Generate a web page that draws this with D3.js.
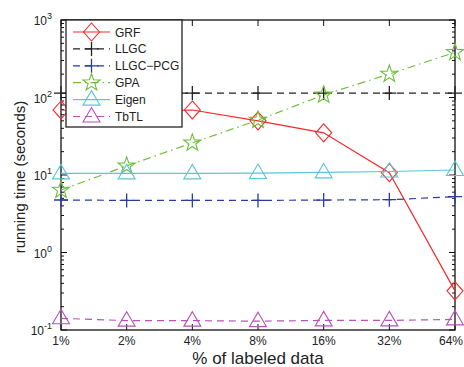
<!DOCTYPE html>
<html><head><meta charset="utf-8">
<script src="https://cdn.jsdelivr.net/npm/d3@7"></script>
<style>body{margin:0;background:#fff}svg{display:block}text{font-family:"Liberation Sans",Arial,sans-serif;fill:#222}</style>
</head><body><svg id="c" width="464" height="367"></svg>
<script>
const categories = ["1%","2%","4%","8%","16%","32%","64%"];
const grf     = [69, 66, 69, 50, 35, 10.7, 0.32];
const llgc    = [114, 114, 114, 114, 114, 114, 114];
const llgcPcg = [4.76, 4.7, 4.7, 4.7, 4.75, 4.8, 5.25];
const gpa     = [6.4, 13.1, 26, 51, 108, 201, 383];
const eigen   = [10.5, 10.5, 10.5, 10.6, 10.8, 11.1, 11.6];
const tbtl    = [0.1415, 0.132, 0.132, 0.13, 0.133, 0.133, 0.137];
const yTickExps = [-1, 0, 1, 2, 3];

const series = [
  {name:"GRF", values:grf, color:"#f42a2a", dash:null, marker:"diamond"},
  {name:"LLGC", values:llgc, color:"#222", dash:"7,5", marker:"plus"},
  {name:"LLGC\u2212PCG", values:llgcPcg, color:"#2b3d9a", dash:"7,5", marker:"plus"},
  {name:"GPA", values:gpa, color:"#6cbf3a", dash:"8,4,1.5,4", marker:"star"},
  {name:"Eigen", values:eigen, color:"#5cc6d6", dash:null, marker:"triangle"},
  {name:"TbTL", values:tbtl, color:"#b653b6", dash:"7,5", marker:"triangle"}
];

const L=61, R=455, T=20, B=330;
const svg = d3.select("#c");
const x = d3.scalePoint().domain(categories).range([L,R]);
const y = d3.scaleLog().domain([0.1,1000]).range([B,T]);

svg.append("rect").attr("x",L).attr("y",T).attr("width",R-L).attr("height",B-T)
  .attr("fill","none").attr("stroke","#111").attr("stroke-width",1.3);

const g = svg.append("g").attr("stroke","#111").attr("stroke-width",1);
for (let e=-1;e<3;e++){
  for (let m=2;m<10;m++){
    const v=m*Math.pow(10,e), yy=y(v);
    g.append("line").attr("x1",L).attr("x2",L+3).attr("y1",yy).attr("y2",yy);
    g.append("line").attr("x1",R).attr("x2",R-3).attr("y1",yy).attr("y2",yy);
  }
}
yTickExps.forEach(e=>{
  const yy=y(Math.pow(10,e));
  g.append("line").attr("x1",L).attr("x2",L+6).attr("y1",yy).attr("y2",yy);
  g.append("line").attr("x1",R).attr("x2",R-6).attr("y1",yy).attr("y2",yy);
  const t=svg.append("text").attr("x",L-9).attr("y",yy+5).attr("text-anchor","end").attr("font-size",12);
  t.append("tspan").text("10");
  t.append("tspan").attr("dy",-6).attr("font-size",9).text(e);
});
categories.forEach((c,i)=>{
  const xx=x(c);
  g.append("line").attr("x1",xx).attr("x2",xx).attr("y1",B).attr("y2",B-6);
  g.append("line").attr("x1",xx).attr("x2",xx).attr("y1",T).attr("y2",T+6);
  const last = i===categories.length-1;
  svg.append("text").attr("x",last?463:xx).attr("y",B+15).attr("text-anchor",last?"end":"middle").attr("font-size",12).text(c);
});

svg.append("text").attr("x",258).attr("y",364).attr("text-anchor","middle").attr("font-size",17).text("% of labeled data");
svg.append("text").attr("transform",`translate(25,177) rotate(-90)`).attr("text-anchor","middle").attr("font-size",15).text("running time (seconds)");

function marker(sel, type, color){
  let p;
  if (type==="diamond") p="M0,-9L8,0L0,9L-8,0Z";
  else if (type==="plus") p="M-7,0H7M0,-7V7";
  else if (type==="triangle") p="M0,-9L8.5,5.5L-8.5,5.5Z";
  else if (type==="star"){
    const pts=[];
    for(let i=0;i<10;i++){const r=i%2?3.6:9; const a=-Math.PI/2+i*Math.PI/5; pts.push([r*Math.cos(a),r*Math.sin(a)]);}
    p="M"+pts.map(d=>d.join(",")).join("L")+"Z";
  }
  sel.append("path").attr("d",p).attr("fill","none").attr("stroke",color).attr("stroke-width",type==="plus"?1.3:1.1);
}

const line = d3.line().x((d,i)=>x(categories[i])).y(d=>y(d));
const plot = svg.append("g");
series.forEach(s=>{
  plot.append("path").attr("d",line(s.values)).attr("fill","none").attr("stroke",s.color)
    .attr("stroke-width",1.2).attr("stroke-dasharray",s.dash);
  s.values.forEach((v,i)=>{
    const m=plot.append("g").attr("transform",`translate(${x(categories[i])},${y(v)})`);
    marker(m,s.marker,s.color);
  });
});

const lg = svg.append("g");
lg.append("rect").attr("x",66).attr("y",T).attr("width",116).attr("height",107).attr("fill","#fff").attr("stroke","#111").attr("stroke-width",1.2);
series.forEach((s,i)=>{
  const yy=32+i*16.9;
  lg.append("line").attr("x1",73).attr("x2",110).attr("y1",yy).attr("y2",yy).attr("stroke",s.color).attr("stroke-width",1.2).attr("stroke-dasharray",s.dash);
  const m=lg.append("g").attr("transform",`translate(91.5,${yy})`);
  marker(m,s.marker,s.color);
  lg.append("text").attr("x",115).attr("y",yy+4.5).attr("font-size",12).text(s.name);
});
</script></body></html>
